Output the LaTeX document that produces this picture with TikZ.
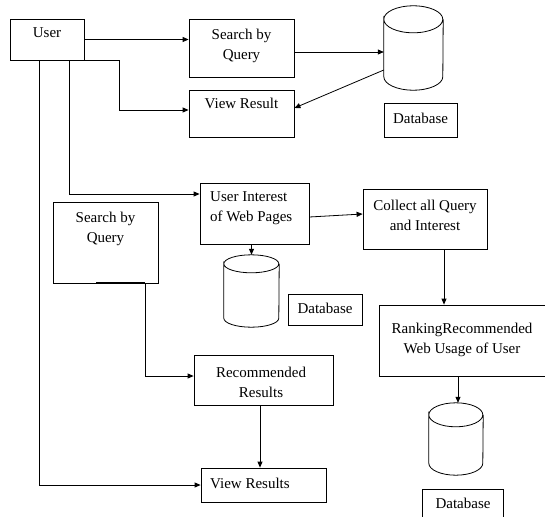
\documentclass[tikz,border=0pt]{standalone}
\usepackage{fontspec}
\setmainfont{Liberation Serif}
\usetikzlibrary{arrows.meta,calc}
\newcommand{\drawcyl}[2]{%
  \draw[line width=0.8pt] ([yshift=-#2pt]#1.north west)
    arc[start angle=180,end angle=-180,x radius={0.5*\pgfkeysvalueof{/pgf/minimum width}},y radius=#2pt]
    -- ([yshift=#2pt]#1.south west)
    arc[start angle=180,end angle=360,x radius={0.5*\pgfkeysvalueof{/pgf/minimum width}},y radius=#2pt]
    -- ([yshift=-#2pt]#1.north east);}
\begin{document}
\begin{tikzpicture}[x=1pt,y=-1pt,
  box/.style={draw,line width=0.8pt,inner sep=0pt},
  cylbox/.style={inner sep=0pt},
  txt/.style={font=\fontsize{15}{20}\selectfont,inner sep=0pt,align=center},
  arr/.style={line width=0.8pt,-{Triangle[length=6pt,width=5pt]}},
  ln/.style={line width=0.8pt}]
\useasboundingbox (0,0) rectangle (545,516);
\begin{scope}
\clip (0,0) rectangle (545,516);
% boxes
\node[box,minimum width=74pt,minimum height=41pt] (user) at (47,39.5) {};
\node[box,minimum width=105pt,minimum height=58pt] (sq1) at (241.5,48) {};
\node[box,minimum width=105pt,minimum height=47pt] (vr1) at (241.5,113.5) {};
\node[box,minimum width=73pt,minimum height=34pt] (dbl1) at (420.5,120) {};
\node[box,minimum width=109pt,minimum height=61pt] (ui) at (254.5,213.5) {};
\node[box,minimum width=105pt,minimum height=81pt] (sq2) at (105.5,242.5) {};
\node[box,minimum width=124pt,minimum height=60pt] (ca) at (425,219) {};
\node[box,minimum width=74pt,minimum height=31pt] (dbl2) at (325,309.5) {};
\node[box,minimum width=171pt,minimum height=71pt] (rk) at (464.5,340.5) {};
\node[box,minimum width=139pt,minimum height=50pt] (rr) at (263.5,380) {};
\node[box,minimum width=125pt,minimum height=34pt] (vr2) at (263.5,485) {};
\node[box,minimum width=81pt,minimum height=41pt] (dbl3) at (462.5,509.5) {};
% cylinders
\node[cylbox,minimum width=59pt,minimum height=84pt] (cyl1) at (413.5,48) {};
\begin{scope}[minimum width=59pt]\drawcyl{cyl1}{13.5}\end{scope}
\node[cylbox,minimum width=55pt,minimum height=72pt] (cyl2) at (251.5,291) {};
\begin{scope}[minimum width=55pt]\drawcyl{cyl2}{9}\end{scope}
\node[cylbox,minimum width=54pt,minimum height=72pt] (cyl3) at (456,439) {};
\begin{scope}[minimum width=54pt]\drawcyl{cyl3}{12}\end{scope}
% texts
\node[txt] (tuser) at (47,33) {User};
\node[txt] (tsq1) at (241.5,46) {Search by\\Query};
\node[txt] (tvr1) at (241.5,103) {View Result};
\node[txt] (tdb1) at (420.5,118) {Database};
\node[txt,align=left,anchor=west] (tui) at (210,208.5) {User Interest\\of Web Pages};
\node[txt] (tsq2) at (105.5,229) {Search by\\Query};
\node[txt] (tca) at (425,215) {Collect all Query\\and Interest};
\node[txt] (tdb2) at (325,308) {Database};
\node[txt] (trk) at (462,339.5) {RankingRecommended\\Web Usage of User};
\node[txt] (trr) at (261,382) {Recommended\\Results};
\node[txt,anchor=west] (tvr2) at (210,483) {View Results};
\node[txt] (tdb3) at (463,503) {Database};
% connectors
\draw[arr] (user.east) -- (user.east -| sq1.west);
\draw[arr] (user.south east) -| ($(vr1.west)+(-69,-3.5)$) -- ([yshift=3.5pt]vr1.west);
\draw[arr] ([yshift=-4pt]sq1.east) -- ([yshift=-4pt]sq1.east -| cyl1.west);
\draw[arr] ([yshift=-22pt]cyl1.west) -- ([yshift=5.5pt]vr1.east);
\draw[arr] ([xshift=22pt]user.south) |- ([yshift=19.5pt]ui.west);
\draw[arr] (cyl2.north |- ui.south) -- (cyl2.north);
\draw[arr] ([yshift=-3.5pt]ui.east) -- ([yshift=5pt]ca.west);
\draw[arr] ([xshift=19pt]ca.south) -- ([xshift=19pt]ca.south |- rk.north);
\draw[arr] ([xshift=-6.5pt]rk.south) -- ([xshift=-6.5pt]rk.south |- cyl3.north);
\draw[line width=2pt] ([xshift=-9.5pt]sq2.south) -- ([xshift=39.5pt]sq2.south);
\draw[arr] ([xshift=39.5pt]sq2.south) |- ([yshift=4pt]rr.west);
\draw[arr] ([xshift=-3.5pt]rr.south) -- ([xshift=-3.5pt]rr.south |- vr2.north);
\draw[arr] ([xshift=-8pt]user.south) |- (vr2.west);
\end{scope}
\end{tikzpicture}
\end{document}
